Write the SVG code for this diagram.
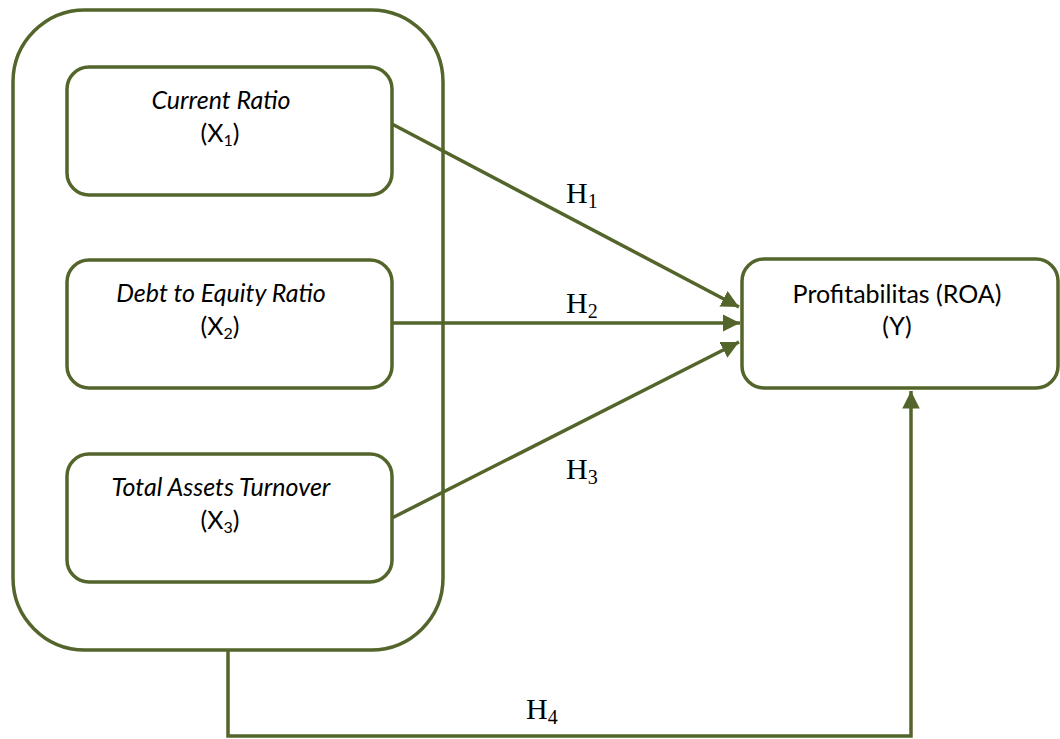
<svg xmlns="http://www.w3.org/2000/svg" width="1060" height="739" viewBox="0 0 1060 739">
<defs>
<style>
.box{fill:#fff;stroke:#53652A;stroke-width:3.5}
.outer{fill:none;stroke:#53652A;stroke-width:3.5}
.con{fill:none;stroke:#53652A;stroke-width:3.5}
.lbl{font-family:Lato,"Open Sans",sans-serif;font-size:25px;fill:#000;text-anchor:middle}
.it{font-style:italic}
.h{font-family:"Liberation Serif",serif;font-size:30px;fill:#000}
.sub{font-size:16px}
.hsub{font-size:20px}
</style>
<marker id="ah" viewBox="0 0 10 10" refX="10" refY="5" markerWidth="5" markerHeight="5" orient="auto" markerUnits="strokeWidth">
<path d="M0,0 L10,5 L0,10 z" fill="#53652A"/>
</marker>
</defs>
<rect width="1060" height="739" fill="#fff"/>
<g id="group">
<rect class="outer" x="13" y="10" width="430" height="640" rx="72" ry="72"/>
</g>
<g id="connectors">
<line class="con" x1="392" y1="124" x2="739" y2="307" marker-end="url(#ah)"/>
<line class="con" x1="392" y1="323" x2="740" y2="323" marker-end="url(#ah)"/>
<line class="con" x1="392" y1="518" x2="739" y2="342" marker-end="url(#ah)"/>
<polyline class="con" points="228,650 228,736 911,736 911,391" marker-end="url(#ah)"/>
</g>
<g id="x1">
<rect class="box" x="67" y="67" width="325" height="128" rx="22" ry="22"/>
<text class="lbl it" x="221" y="109">Current Ratio</text>
<text class="lbl" x="220" y="142">(X<tspan class="sub" dy="4">1</tspan><tspan dy="-4">)</tspan></text>
</g>
<g id="x2">
<rect class="box" x="67" y="260" width="325" height="128" rx="22" ry="22"/>
<text class="lbl it" x="221" y="302">Debt to Equity Ratio</text>
<text class="lbl" x="220" y="335">(X<tspan class="sub" dy="4">2</tspan><tspan dy="-4">)</tspan></text>
</g>
<g id="x3">
<rect class="box" x="67" y="454" width="325" height="128" rx="22" ry="22"/>
<text class="lbl it" x="221" y="496">Total Assets Turnover</text>
<text class="lbl" x="220" y="529">(X<tspan class="sub" dy="4">3</tspan><tspan dy="-4">)</tspan></text>
</g>
<g id="y">
<rect class="box" x="742" y="259" width="316" height="129" rx="22" ry="22"/>
<text class="lbl" x="897" y="303">Profitabilitas (ROA)</text>
<text class="lbl" x="897" y="335">(Y)</text>
</g>
<g id="labels">
<text class="h" x="566" y="203">H<tspan class="hsub" dy="5">1</tspan></text>
<text class="h" x="566" y="313">H<tspan class="hsub" dy="5">2</tspan></text>
<text class="h" x="566" y="479">H<tspan class="hsub" dy="5">3</tspan></text>
<text class="h" x="526" y="719">H<tspan class="hsub" dy="5">4</tspan></text>
</g>
</svg>
